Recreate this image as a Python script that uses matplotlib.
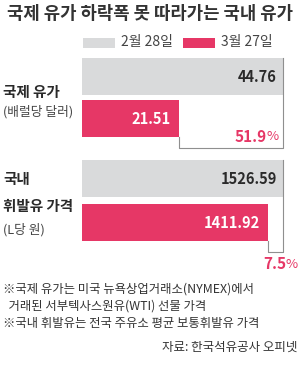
import matplotlib.pyplot as plt
from matplotlib.patches import Rectangle

plt.rcParams['font.family'] = ['Noto Sans CJK KR', 'DejaVu Sans']

W, H = 300, 372

# 데이터
title = '국제 유가 하락폭 못 따라가는 국내 유가'
series = ['2월 28일', '3월 27일']
cat_lines = [['국제 유가'], ['국내', '휘발유 가격']]
units = ['(배럴당 달러)', '(L당 원)']
feb = [44.76, 1526.59]
mar = [21.51, 1411.92]
drop = ['51.9', '7.5']
notes = ['※국제 유가는 미국 뉴욕상업거래소(NYMEX)에서',
         '  거래된 서부텍사스원유(WTI) 선물 가격',
         '※국내 휘발유는 전국 주유소 평균 보통휘발유 가격']
source = '자료: 한국석유공사 오피넷'

GRAY = '#d9dadb'
PINK = '#e63766'
LINE = '#8f8f8f'
TXT = '#2a2a2a'


def fx(x):
    return x / W


def fy(y):
    return 1 - y / H


fig = plt.figure(figsize=(W / 100, H / 100), dpi=100)

# 제목
fig.text(fx(150), fy(14), title, ha='center', va='center',
         fontsize=12.8, fontweight='bold', color='#333333')

# 범례
for x0, col, lab in [(83, GRAY, series[0]), (183, PINK, series[1])]:
    fig.add_artist(Rectangle((fx(x0), fy(48)), 32 / W, 10 / H,
                             transform=fig.transFigure, color=col, lw=0))
    fig.text(fx(x0 + 38), fy(42), lab, ha='left', va='center',
             fontsize=10, color='#444444')

# 막대 (그룹마다 자체 축)
layout = [(58, 148, 42), (160, 252, 44)]
drop_pos = [(279, 137), (298, 264)]
for i, (top, bot, s) in enumerate(layout):
    ax = fig.add_axes([fx(82), fy(bot), 201 / W, (bot - top) / H])
    h = 37 / s
    yb = (bot - top) / s - h / 2
    ax.set_xlim(0, feb[i])
    ax.set_ylim(yb, -h / 2)
    ax.barh([0, 1], [feb[i], mar[i]], height=h, color=[GRAY, PINK], lw=0)
    ax.axis('off')
    ax.plot([mar[i], mar[i], feb[i], feb[i]], [1 + h / 2, yb, yb, -h / 2],
            color=LINE, lw=0.8, clip_on=False)
    pad = feb[i] * 0.03
    ax.text(feb[i] - pad, 0.02, f'{feb[i]:.2f}', ha='right', va='center',
            fontsize=10.5, fontweight='bold', color=TXT)
    ax.text(mar[i] - pad * 1.3, 1.02, f'{mar[i]:.2f}', ha='right', va='center',
            fontsize=10.5, fontweight='bold', color='white')

    # 하락률
    px, py = drop_pos[i]
    pct = fig.text(fx(px), fy(py), '%', ha='right', va='center',
                   fontsize=9.5, color=PINK)
    ax.annotate(drop[i], xy=(0, 0.5), xycoords=pct, ha='right', va='center',
                fontsize=11, fontweight='bold', color=PINK)

# 항목 이름
fig.text(fx(3), fy(92), cat_lines[0][0], ha='left', va='center',
         fontsize=10.5, fontweight='bold', color=TXT)
fig.text(fx(3), fy(112), units[0], ha='left', va='center',
         fontsize=9.2, color='#444444')
fig.text(fx(3), fy(179), cat_lines[1][0], ha='left', va='center',
         fontsize=10.5, fontweight='bold', color=TXT)
fig.text(fx(3), fy(206), cat_lines[1][1], ha='left', va='center',
         fontsize=10.5, fontweight='bold', color=TXT)
fig.text(fx(3), fy(230), units[1], ha='left', va='center',
         fontsize=9.2, color='#444444')

# 주석
for y, t in zip([289, 306, 324], notes):
    fig.text(fx(3), fy(y), t, ha='left', va='center', fontsize=8.9, color='#333333')
fig.text(fx(297), fy(347), source, ha='right', va='center',
         fontsize=9, color='#333333')

fig.savefig('out.png', dpi=100)
